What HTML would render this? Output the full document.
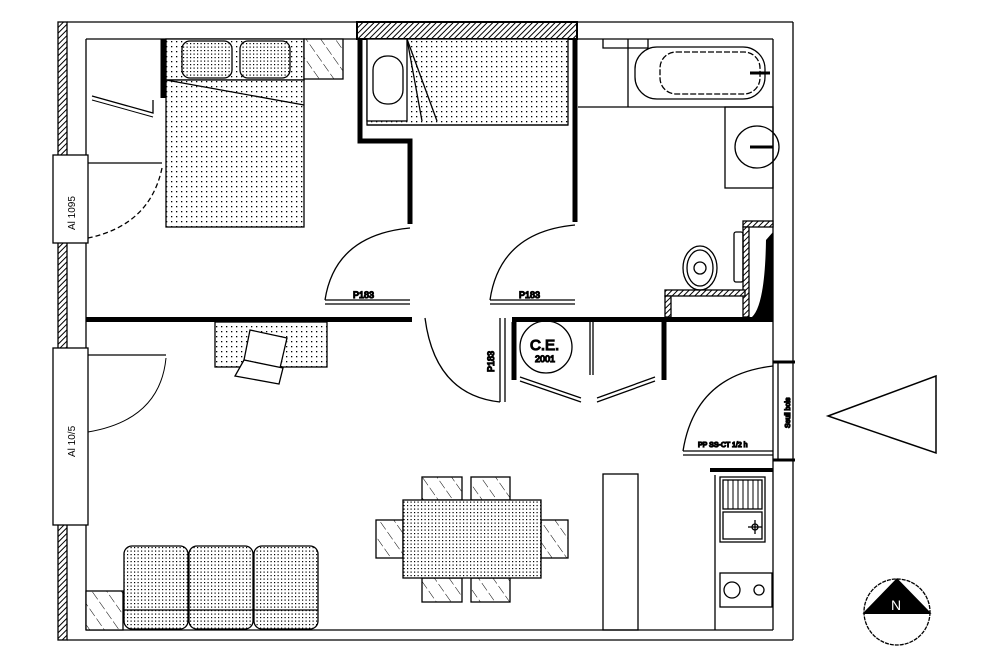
<!DOCTYPE html>
<html><head><meta charset="utf-8"><style>
html,body{margin:0;padding:0;background:#fff;}
svg{display:block;}
text{font-family:"Liberation Sans",sans-serif;fill:#000;}
</style></head><body>
<svg width="1000" height="667" viewBox="0 0 1000 667" xmlns="http://www.w3.org/2000/svg">
<defs>
<pattern id="dots" width="5" height="5" patternUnits="userSpaceOnUse"><rect width="5" height="5" fill="#fff"/><rect x="1" y="1" width="1.3" height="1.3" fill="#000"/></pattern>
<pattern id="dots2" width="3.5" height="3.5" patternUnits="userSpaceOnUse"><rect width="3.5" height="3.5" fill="#fff"/><rect x="1" y="1" width="1.2" height="1.2" fill="#000"/></pattern>
<pattern id="hatch" width="12" height="12" patternUnits="userSpaceOnUse" patternTransform="rotate(-35)"><rect width="12" height="12" fill="#fff"/><line x1="0" y1="0" x2="0" y2="12" stroke="#000" stroke-width="1" stroke-dasharray="7,3"/></pattern>
<pattern id="whatch" width="4" height="4" patternUnits="userSpaceOnUse" patternTransform="rotate(45)"><rect width="4" height="4" fill="#fff"/><line x1="0" y1="0" x2="0" y2="4" stroke="#000" stroke-width="2"/></pattern>
</defs>
<g fill="none" stroke="#000" stroke-width="1.3">
<rect x="58" y="22" width="9" height="618" fill="url(#whatch)" stroke="#000"/>
<line x1="67" y1="22" x2="793" y2="22"/>
<line x1="793" y1="22" x2="793" y2="640"/>
<line x1="67" y1="640" x2="793" y2="640"/>
<line x1="86" y1="39" x2="773" y2="39"/>
<line x1="86" y1="39" x2="86" y2="630"/>
<line x1="773" y1="39" x2="773" y2="630"/>
<line x1="86" y1="630" x2="773" y2="630"/>
<rect x="357" y="22" width="220" height="17" fill="url(#whatch)" stroke-width="2"/>
<rect x="53" y="155" width="35" height="88" fill="#fff"/>
<rect x="53" y="348" width="35" height="177" fill="#fff"/>
<polyline points="360,39 360,141 410,141 410,224" stroke-width="5"/>
<line x1="575" y1="39" x2="575" y2="222" stroke-width="5"/>
<line x1="163" y1="39" x2="163" y2="98" stroke-width="5"/>
<line x1="86" y1="319.5" x2="412" y2="319.5" stroke-width="5"/>
<line x1="512" y1="319.5" x2="773" y2="319.5" stroke-width="5"/>
<line x1="514" y1="322" x2="514" y2="380" stroke-width="5"/>
<line x1="664" y1="322" x2="664" y2="380" stroke-width="5"/>
<line x1="590" y1="322" x2="590" y2="375"/>
<line x1="593" y1="322" x2="593" y2="375"/>
<polyline points="92,96 153,113 153,100"/>
<polyline points="92,100 153,117" stroke-width="1"/>
<rect x="166" y="39" width="138" height="41" fill="url(#dots)"/>
<rect x="182" y="41" width="50" height="37" rx="8" fill="url(#dots2)"/>
<rect x="240" y="41" width="50" height="37" rx="8" fill="url(#dots2)"/>
<rect x="304" y="39" width="39" height="40" fill="url(#hatch)"/>
<rect x="166" y="80" width="138" height="147" fill="url(#dots)"/>
<line x1="166" y1="80" x2="304" y2="105"/>
<line x1="88" y1="163" x2="162" y2="163"/>
<path d="M162,168 Q150,225 88,238" stroke-dasharray="5,3"/>
<rect x="367" y="39" width="201" height="86" fill="url(#dots)"/>
<rect x="367" y="39" width="40" height="82" fill="#fff"/>
<line x1="407" y1="39" x2="422" y2="121"/>
<line x1="407" y1="39" x2="437" y2="121"/>
<rect x="373" y="56" width="30" height="48" rx="14"/>
<line x1="367" y1="125" x2="568" y2="125"/>
<line x1="325" y1="300" x2="410" y2="300"/><line x1="325" y1="304" x2="410" y2="304"/>
<path d="M410,228 Q335,235 325,300"/>
<text x="353" y="298" font-size="9">P183</text>
<line x1="490" y1="300" x2="575" y2="300"/><line x1="490" y1="304" x2="575" y2="304"/>
<path d="M575,225 Q500,232 490,300"/>
<text x="519" y="298" font-size="9">P183</text>
<line x1="500" y1="318" x2="500" y2="402"/><line x1="505" y1="318" x2="505" y2="402"/>
<path d="M425,318 Q435,395 500,402"/>
<text transform="translate(494,372) rotate(-90)" font-size="9">P183</text>
<circle cx="546" cy="347" r="26"/>
<text x="530" y="350" font-size="15">C.E.</text>
<text x="535" y="362" font-size="9">2001</text>
<polyline points="520,377 581,398"/><polyline points="520,381 581,402"/>
<polyline points="597,398 655,377"/><polyline points="597,402 655,381"/>
<line x1="628" y1="39" x2="628" y2="107"/>
<line x1="578" y1="107" x2="773" y2="107"/>
<path d="M603,39 V48 H648 V39"/>
<rect x="635" y="47" width="130" height="52" rx="22"/>
<rect x="660" y="52" width="100" height="42" rx="16" stroke-dasharray="6,2"/>
<line x1="750" y1="73" x2="770" y2="73" stroke-width="3"/>
<rect x="725" y="107" width="48" height="81"/>
<ellipse cx="757" cy="147" rx="22" ry="21"/>
<line x1="750" y1="147" x2="773" y2="147" stroke-width="3"/>
<rect x="743" y="221" width="30" height="6" fill="url(#whatch)"/>
<rect x="743" y="227" width="6" height="90" fill="url(#whatch)"/>
<rect x="665" y="290" width="80" height="6" fill="url(#whatch)"/>
<rect x="665" y="296" width="6" height="21" fill="url(#whatch)"/>
<rect x="734" y="232" width="9" height="50" rx="2"/>
<ellipse cx="700" cy="268" rx="17" ry="22"/>
<ellipse cx="700" cy="268" rx="13" ry="18"/>
<circle cx="700" cy="268" r="6"/>
<path d="M752,317 Q765,305 766,240 L773,232 L773,317 Z" fill="#000" stroke="none"/>
<rect x="215" y="322" width="112" height="45" fill="url(#dots)"/>
<polygon points="250,330 287,338 280,368 244,360" fill="#fff"/>
<polygon points="244,360 283,368 279,384 235,376" fill="#fff"/>
<line x1="88" y1="355" x2="166" y2="355"/>
<path d="M166,358 Q160,420 88,432" stroke-width="1"/>
<line x1="778" y1="362" x2="778" y2="460"/>
<line x1="773" y1="362" x2="795" y2="362" stroke-width="3"/>
<line x1="773" y1="460" x2="795" y2="460" stroke-width="3"/>
<line x1="683" y1="455" x2="773" y2="455"/><line x1="683" y1="451" x2="773" y2="451"/>
<path d="M773,366 Q695,375 683,451"/>
<text x="698" y="447" font-size="7">PP SS-CT 1/2 h</text>
<text transform="translate(790,428) rotate(-90)" font-size="7">Seuil bois</text>
<line x1="710" y1="470" x2="773" y2="470" stroke-width="4"/>
<line x1="715" y1="475" x2="715" y2="630"/>
<rect x="720" y="477" width="45" height="65"/>
<rect x="723" y="480" width="39" height="29" fill="none"/>
<path d="M728,480V509M733,480V509M738,480V509M743,480V509M748,480V509M753,480V509M758,480V509" stroke-width="1"/>
<rect x="723" y="512" width="39" height="27"/>
<circle cx="755" cy="527" r="3"/><line x1="748" y1="527" x2="762" y2="527"/><line x1="755" y1="520" x2="755" y2="534"/>
<rect x="720" y="573" width="52" height="34"/>
<circle cx="732" cy="590" r="8"/><circle cx="759" cy="590" r="5"/>
<rect x="603" y="474" width="35" height="156"/>
<rect x="422" y="477" width="40" height="23" fill="url(#hatch)"/>
<rect x="471" y="477" width="39" height="23" fill="url(#hatch)"/>
<rect x="422" y="578" width="40" height="24" fill="url(#hatch)"/>
<rect x="471" y="578" width="39" height="24" fill="url(#hatch)"/>
<rect x="376" y="520" width="27" height="38" fill="url(#hatch)"/>
<rect x="541" y="520" width="27" height="38" fill="url(#hatch)"/>
<rect x="403" y="500" width="138" height="78" fill="url(#dots2)"/>
<rect x="86" y="591" width="37" height="39" fill="url(#hatch)"/>
<rect x="124" y="546" width="64" height="83" rx="8" fill="url(#dots2)"/>
<rect x="189" y="546" width="64" height="83" rx="8" fill="url(#dots2)"/>
<rect x="254" y="546" width="64" height="83" rx="8" fill="url(#dots2)"/>
<line x1="124" y1="610" x2="318" y2="610"/>
<polygon points="828,416 936,376 936,453" stroke-width="1.5"/>
<circle cx="897" cy="612" r="33" stroke-dasharray="4,1"/>
<polygon points="897,579 864,613 930,613" fill="#000"/>
<line x1="864" y1="613" x2="930" y2="613" stroke-width="2"/>
</g>
<text x="891" y="610" font-size="14" style="fill:#fff">N</text>
<text transform="translate(75,230) rotate(-90)" font-size="10">Al 1095</text>
<text transform="translate(75,457) rotate(-90)" font-size="10">Al 10/5</text>
</svg>
</body></html>
